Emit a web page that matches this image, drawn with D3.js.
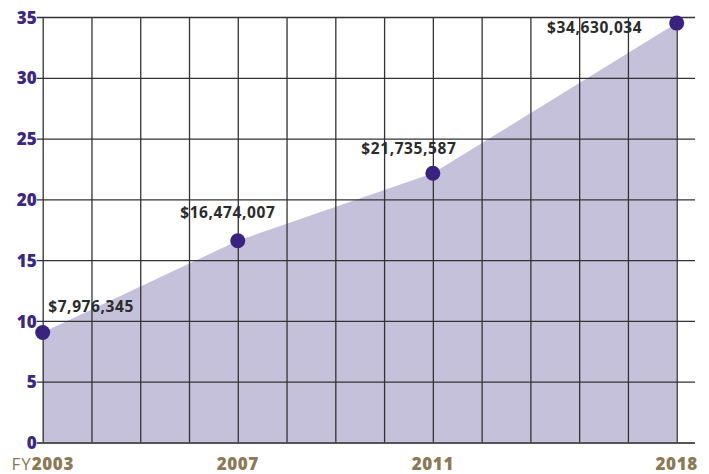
<!DOCTYPE html>
<html>
<head>
<meta charset="utf-8">
<script src="https://cdn.jsdelivr.net/npm/d3@7"></script>
<style>
  html, body { margin: 0; padding: 0; background: #fff; }
  svg { display: block; font-family: "Open Sans", "Noto Sans", sans-serif; }
</style>
</head>
<body>
<svg id="chart" width="709" height="474"></svg>
<script>
// ---- data ----
const gridSteps = [0, 1, 2, 3, 4, 5, 6, 7, 8, 9, 10, 11, 12, 13];
const pointSteps = [0, 4, 8, 13];
const pointValues = [9.05, 16.6, 22.15, 34.5];
const pointLabels = ["$7,976,345", "$16,474,007", "$21,735,587", "$34,630,034"];
const tickSteps = [0, 4, 8, 13];
const tickYears = ["2003", "2007", "2011", "2018"];
const yTicks = [0, 5, 10, 15, 20, 25, 30, 35];

// ---- layout ----
const svg = d3.select("#chart");
const x = d3.scaleLinear().domain([0, 13]).range([42.7, 676.7]);
const y = d3.scaleLinear().domain([0, 35]).range([442.5, 17]);
const gridRight = 695;
const labelLayout = [
  { dx: 5.5, dy: -20, anchor: "start" },
  { dx: -10, dy: -23, anchor: "middle" },
  { dx: -24, dy: -19.5, anchor: "middle" },
  { dx: -82, dy: 10, anchor: "middle" }
];

// area
const area = d3.area()
  .x((d, i) => x(pointSteps[i]))
  .y0(y(0))
  .y1(d => y(d));
svg.append("path")
  .datum(pointValues)
  .attr("d", area)
  .attr("fill", "#c6c1da");

// horizontal grid via axis
const yAxis = d3.axisLeft(y).tickValues(yTicks).tickSize(-(gridRight - x(0))).tickSizeOuter(0).tickPadding(8);
const gy = svg.append("g").attr("transform", `translate(${x(0)},0)`).call(yAxis);
gy.select(".domain").remove();
gy.selectAll(".tick line")
  .attr("x1", -6)
  .attr("stroke", d => d === 0 ? "#555" : "#333")
  .attr("stroke-width", d => d === 0 ? 2 : 1.3);
gy.selectAll(".tick text")
  .attr("x", -6)
  .attr("fill", "#3b2882")
  .attr("font-size", 17)
  .attr("font-weight", 800)
  .attr("font-family", "'Open Sans', sans-serif")
  .attr("dy", "0.36em");

// vertical grid via axis
const xGrid = d3.axisBottom(x).tickValues(gridSteps).tickSize(-(y(0) - y(35))).tickFormat("").tickSizeOuter(0);
const gx = svg.append("g").attr("transform", `translate(0,${y(0)})`).call(xGrid);
gx.select(".domain").remove();
gx.selectAll(".tick line").attr("stroke", "#333").attr("stroke-width", 1.3);

// x tick labels
const xl = svg.append("g");
tickSteps.forEach((s, i) => {
  const t = xl.append("text")
    .attr("x", x(s))
    .attr("y", 470)
    .attr("text-anchor", "middle")
    .attr("fill", "#8a7a55")
    .attr("font-size", 17)
    .attr("letter-spacing", 0.6);
  if (i === 0) {
    t.append("tspan").attr("font-weight", 400).attr("letter-spacing", 1).text("FY");
  }
  t.append("tspan").attr("font-weight", 800).text(tickYears[i]);
});

// dots
svg.append("g").selectAll("circle")
  .data(pointSteps)
  .join("circle")
  .attr("cx", d => x(d))
  .attr("cy", (d, i) => y(pointValues[i]))
  .attr("r", 7.5)
  .attr("fill", "#3a2380");

// value labels
svg.append("g").selectAll("text")
  .data(pointSteps)
  .join("text")
  .attr("x", (d, i) => x(d) + labelLayout[i].dx)
  .attr("y", (d, i) => y(pointValues[i]) + labelLayout[i].dy)
  .attr("text-anchor", (d, i) => labelLayout[i].anchor)
  .attr("fill", "#2b2b2b")
  .attr("font-size", 15.5)
  .attr("font-weight", 700)
  .attr("letter-spacing", 0.6)
  .text((d, i) => pointLabels[i]);
</script>
</body>
</html>
